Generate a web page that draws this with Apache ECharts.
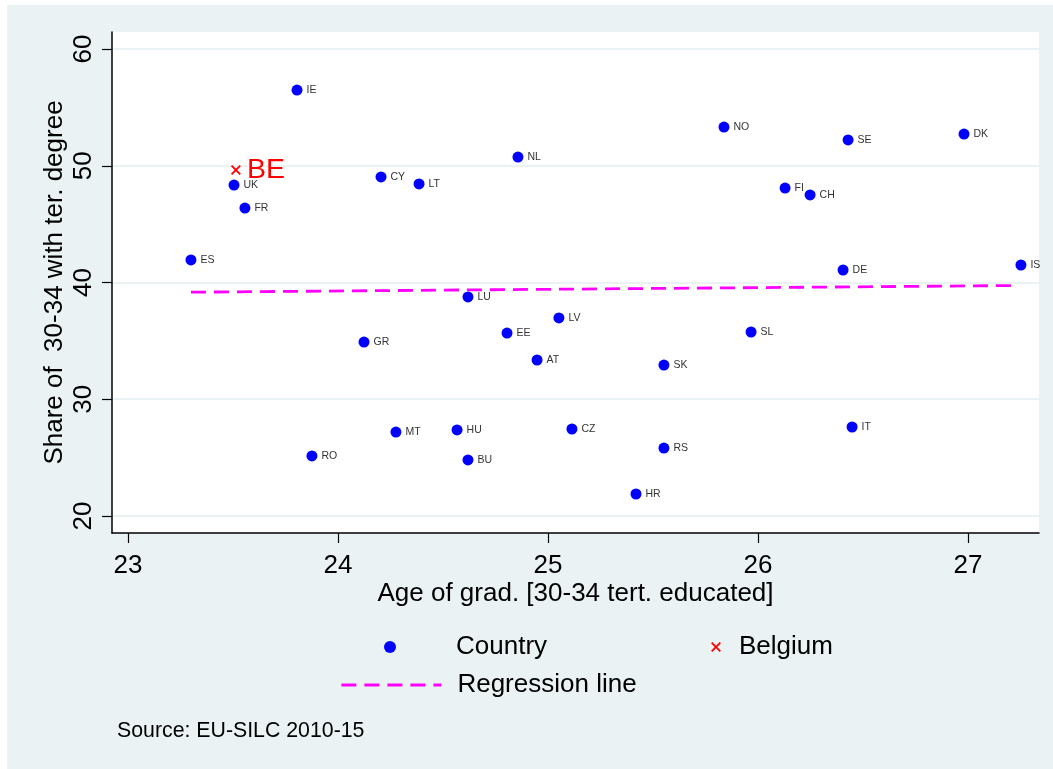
<!DOCTYPE html>
<html>
<head>
<meta charset="utf-8">
<script src="https://cdn.jsdelivr.net/npm/echarts@6/dist/echarts.min.js"></script>
<style>
html,body{margin:0;padding:0;background:#ffffff;}
#bg{position:absolute;left:7px;top:5px;right:0;bottom:0;background:#eaf2f3;}
#chart{position:absolute;left:0;top:0;width:1053px;height:769px;}
</style>
</head>
<body>
<div id="bg"></div>
<div id="chart"></div>
<script>
// Countries: [age of graduation, share with tertiary degree]
const countryNames = ['IE','UK','FR','ES','CY','LT','NL','NO','SE','DK','FI','CH','DE','IS','LU','LV','EE','GR','AT','SL','SK','MT','HU','CZ','IT','RO','BU','RS','HR'];
const gradAge = [23.805,23.505,23.557,23.30,24.205,24.386,24.857,25.838,26.429,26.981,26.129,26.248,26.405,27.252,24.619,25.052,24.805,24.124,24.948,25.967,25.552,24.276,24.567,25.114,26.448,23.876,24.619,25.552,25.419];
const tertShare = [56.49,48.35,46.38,41.93,49.04,48.44,50.75,53.32,52.21,52.72,48.09,47.50,41.07,41.50,38.76,36.96,35.67,34.90,33.36,35.76,32.93,27.19,27.37,27.45,27.62,25.14,24.80,25.82,21.88];
const belgium = [23.514, 49.64];
const regX = [23.30, 27.224];
const regY = [39.17, 39.74];
const xTicks = [23, 24, 25, 26, 27];
const yTicks = [20, 30, 40, 50, 60];

const FONT = '"Liberation Sans", Arial, Helvetica, sans-serif';
const countryData = countryNames.map((n, i) => ({name: n, value: [gradAge[i], tertShare[i]]}));
const regData = regX.map((x, i) => [x, regY[i]]);
const xSym = 'path://M0,1.3 L1.3,0 L5,3.7 L8.7,0 L10,1.3 L6.3,5 L10,8.7 L8.7,10 L5,6.3 L1.3,10 L0,8.7 L3.7,5 Z';

const chart = echarts.init(document.getElementById('chart'), null, {renderer: 'canvas'});
chart.setOption({
  backgroundColor: 'transparent',
  animation: false,
  textStyle: {fontFamily: FONT},
  grid: {left: 112, right: 14, top: 32, bottom: 236, show: true, backgroundColor: '#ffffff', borderWidth: 0},
  xAxis: {
    type: 'value', min: 22.924, max: 27.338,
    name: 'Age of grad. [30-34 tert. educated]', nameLocation: 'middle', nameGap: 48, nameMoveOverlap: false,
    nameTextStyle: {fontSize: 26, color: '#000', fontFamily: FONT},
    axisLine: {show: true, onZero: false, lineStyle: {color: '#000', width: 1.5}},
    axisTick: {show: true, inside: false, length: 10, lineStyle: {color: '#000', width: 1.2}, customValues: xTicks},
    axisLabel: {fontSize: 26, color: '#000', margin: 20, customValues: xTicks, fontFamily: FONT},
    splitLine: {show: false}
  },
  yAxis: {
    type: 'value', min: 18.54, max: 61.46,
    name: 'Share of  30-34 with ter. degree', nameLocation: 'middle', nameGap: 44, nameMoveOverlap: false,
    nameTextStyle: {fontSize: 26, color: '#000', fontFamily: FONT},
    axisLine: {show: true, onZero: false, lineStyle: {color: '#000', width: 1.5}},
    axisTick: {show: true, inside: false, length: 10, lineStyle: {color: '#000', width: 1.2}, customValues: yTicks},
    axisLabel: {fontSize: 26, color: '#000', margin: 15, rotate: 90, customValues: yTicks, fontFamily: FONT},
    splitLine: {show: true, lineStyle: {color: '#eaf2f3', width: 2}}
  },
  legend: [
    {data: ['Country'], left: 384, top: 632, padding: 0, itemWidth: 12, itemHeight: 12, itemGap: 0,
     textStyle: {fontSize: 26, lineHeight: 30, color: '#000', fontFamily: FONT, padding: [0, 0, 0, 55]}},
    {data: ['Belgium'], left: 711, top: 632, padding: 0, itemWidth: 10, itemHeight: 10, itemGap: 0,
     textStyle: {fontSize: 26, lineHeight: 30, color: '#000', fontFamily: FONT, padding: [0, 0, 0, 13]}},
    {data: ['Regression line'], left: 340, top: 670, padding: 0, itemWidth: 100, itemHeight: 12, itemGap: 0,
     itemStyle: {opacity: 0},
     lineStyle: {color: '#ff00ff', width: 2.8, type: [15, 8]},
     textStyle: {fontSize: 26, lineHeight: 30, color: '#000', fontFamily: FONT, padding: [0, 0, 0, 11]}}
  ],
  graphic: [
    {type: 'text', left: 117, top: 721, style: {text: 'Source: EU-SILC 2010-15', font: '21.3px ' + FONT, fill: '#000'}}
  ],
  series: [
    {
      name: 'Regression line', type: 'line', data: regData, showSymbol: false, symbol: 'none',
      lineStyle: {color: '#ff00ff', width: 2.8, type: [15, 8]}, itemStyle: {color: '#ff00ff'}, z: 2, silent: true
    },
    {
      name: 'Country', type: 'scatter', data: countryData, symbol: 'circle', symbolSize: 11,
      itemStyle: {color: '#0000ff', opacity: 1}, z: 3,
      label: {show: true, position: 'right', distance: 4, formatter: p => p.name, fontSize: 10.5, color: '#333', fontFamily: FONT}
    },
    {
      name: 'Belgium', type: 'scatter', data: [{name: 'BE', value: belgium}], symbol: xSym, symbolSize: 10,
      itemStyle: {color: '#ff0000', opacity: 1}, z: 4,
      label: {show: true, position: 'right', distance: 6, formatter: 'BE', fontSize: 28.5, color: '#ff0000', fontFamily: FONT}
    }
  ]
});
</script>
</body>
</html>
